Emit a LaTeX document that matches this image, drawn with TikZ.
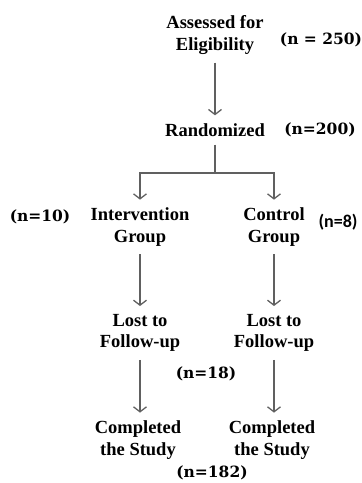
\documentclass[tikz,border=0pt]{standalone}
\usepackage{fontspec}
\setmainfont{Liberation Serif}
\newfontfamily\countfont{DejaVu Serif}
\newfontfamily\calfont{Carlito}
\usetikzlibrary{positioning}
\usetikzlibrary{arrows.meta}

\begin{document}
\begin{tikzpicture}[x=1pt,y=-1pt]
    % Flow style
    \tikzset{
        stage/.style={align=center, inner sep=8pt,
            font=\fontsize{18.5}{21.5}\selectfont\bfseries},
        count/.style={inner sep=0pt, font=\countfont\fontsize{15.5}{18}\selectfont\bfseries},
        flow/.style={draw=gray!75!black, line width=1.3pt,
            -{Straight Barb[length=5pt,width=13pt,line width=1.3pt]}},
    }
    \useasboundingbox (0,0) rectangle (362,483);

    % Stages
    \node[stage] (assess) at (215,35) {Assessed for\\Eligibility};
    \node[stage] (rand) at (215,130) {Randomized};
    \node[stage] (interv) at (140,227) {Intervention\\Group};
    \node[stage] (ctrl) at (274,227) {Control\\Group};
    \node[stage] (lostA) at (140,333) {Lost to\\Follow-up};
    \node[stage] (lostB) at (274,333) {Lost to\\Follow-up};
    \node[stage] (doneA) at (138,440) {Completed\\the Study};
    \node[stage] (doneB) at (272,440) {Completed\\the Study};

    % Counts
    \node[count] (n250) at (321,40) {(n = 250)};
    \node[count] (n200) at (320,130) {(n=200)};
    \node[count] (n10) at (40,217) {(n=10)};
    \node[count, font=\calfont\fontsize{18}{20}\selectfont\bfseries] (n8) at (338,222) {(n=8)};
    \node[count] (n18) at (206,374) {(n=18)};
    \node[count] (n182) at (212,473) {(n=182)};
    \coordinate (split) at (215,173);

    % Connection
    \draw[flow] (assess) -- (rand);
    \draw[flow, -] (rand) -- (split);
    \draw[flow] (split) -| (interv);
    \draw[flow] (split) -| (ctrl);
    \draw[flow] (interv) -- (lostA);
    \draw[flow] (ctrl) -- (lostB);
    \draw[flow] (lostA) -- (doneA.north -| lostA);
    \draw[flow] (lostB) -- (doneB.north -| lostB);
\end{tikzpicture}
\end{document}
